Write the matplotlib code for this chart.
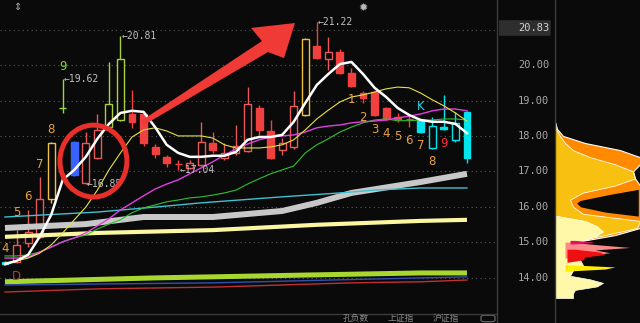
import matplotlib
matplotlib.use("Agg")
import matplotlib.pyplot as plt
import matplotlib.transforms as mtrans
from matplotlib.patches import Rectangle, Ellipse, Polygon, FancyBboxPatch
from matplotlib.lines import Line2D

BG = "#0a0a0a"

# ---- candles ----
opens = [14.38, 14.44, 14.98, 15.15, 16.22, 18.80, 17.83, 16.67, 17.38, 18.25,
         18.45, 18.62, 18.62, 17.69, 17.41, 17.22, 17.10, 17.18, 17.80, 17.38,
         17.52, 17.58, 18.79, 18.14, 17.60, 17.69, 18.59, 20.54, 20.18, 20.37,
         19.78, 19.21, 19.24, 18.79, 18.54, 18.49, 18.45, 17.66, 18.25, 17.89, 18.68]
highs = [14.46, 15.34, 15.91, 16.84, 17.82, 19.62, 17.85, 18.11, 18.62, 20.09,
         20.81, 19.30, 18.64, 17.77, 17.46, 17.32, 17.32, 18.40, 18.11, 17.80,
         18.31, 19.38, 18.88, 18.45, 17.94, 19.27, 20.76, 21.22, 20.80, 20.46,
         19.92, 19.27, 19.27, 18.82, 18.65, 18.59, 18.47, 18.54, 19.16, 18.68, 18.70]
lows = [14.35, 14.41, 14.85, 15.12, 16.11, 18.65, 16.88, 16.64, 17.36, 18.22,
        18.43, 18.23, 17.72, 17.38, 17.12, 17.04, 17.08, 17.15, 17.52, 17.32,
        17.46, 17.55, 18.03, 17.36, 17.46, 17.62, 18.57, 20.18, 19.86, 19.76,
        19.38, 18.93, 18.57, 18.45, 18.40, 18.25, 18.08, 17.64, 18.17, 17.83, 17.24]
closes = [14.44, 14.92, 15.29, 16.22, 17.80, 18.78, 16.90, 17.80, 18.17, 18.90,
          20.18, 18.40, 17.80, 17.49, 17.24, 17.20, 17.24, 17.83, 17.60, 17.52,
          17.72, 18.90, 18.17, 17.38, 17.80, 18.85, 20.74, 20.20, 20.37, 19.78,
          19.41, 19.07, 18.59, 18.48, 18.48, 18.47, 18.11, 18.28, 18.20, 18.37, 17.38]
candle_colors = (["#00e4ee"] + ["#e85a5a"] * 3 + ["#f0c040", "#8ee030", "#3a62ff",
                 "#e85a5a", "#e85a5a", "#a8d040", "#a8d040"] + ["#f04040"] * 5 +
                 ["#e85a5a", "#e85a5a", "#f04040", "#e85a5a", "#e85a5a", "#e85a5a",
                  "#f04040", "#f04040", "#e85a5a", "#e85a5a", "#f0c040", "#f04040",
                  "#e85a5a"] + ["#f04040"] * 7 + ["#00e4ee"] * 5)
hollow = [False, True, True, True, True, False, False, True, True, True,
          True, False, False, False, False, False, True, True, False, True,
          True, True, False, False, True, True, True, False, True, False,
          False, False, False, False, False, False, False, True, False, True, False]

# ---- moving averages, one value per candle ----
ma_white = [14.38, 14.47, 14.64, 15.15, 15.77, 16.76, 17.04, 17.41, 17.92, 18.34,
            18.65, 18.71, 18.68, 18.25, 17.75, 17.52, 17.41, 17.41, 17.44, 17.44,
            17.55, 17.89, 17.97, 17.97, 18.03, 18.40, 18.93, 19.44, 19.75, 20.03,
            20.09, 19.75, 19.36, 19.10, 18.79, 18.59, 18.45, 18.40, 18.40, 18.34, 18.08]
ma_yellow = [14.41, 14.47, 14.55, 14.69, 14.92, 15.26, 15.63, 15.99, 16.47, 17.04,
             17.52, 17.97, 18.17, 18.23, 18.14, 18.00, 18.00, 18.00, 17.94, 17.75,
             17.66, 17.66, 17.66, 17.69, 17.75, 17.89, 18.17, 18.48, 18.73, 18.96,
             19.10, 19.16, 19.24, 19.33, 19.38, 19.36, 19.21, 19.02, 18.85, 18.65, 18.42]
ma_magenta = [14.55, 14.55, 14.58, 14.72, 14.86, 15.01, 15.12, 15.26, 15.46, 15.66,
              15.91, 16.11, 16.31, 16.50, 16.64, 16.76, 16.93, 17.10, 17.27, 17.46,
              17.63, 17.77, 17.89, 17.97, 18.00, 18.03, 18.11, 18.23, 18.28, 18.31,
              18.37, 18.40, 18.42, 18.45, 18.51, 18.56, 18.62, 18.71, 18.76, 18.76, 18.71]
ma_green = [14.61, 14.61, 14.64, 14.72, 14.86, 15.01, 15.12, 15.20, 15.37, 15.51,
            15.63, 15.83, 15.97, 16.05, 16.14, 16.19, 16.25, 16.28, 16.33, 16.39,
            16.47, 16.64, 16.79, 16.93, 17.04, 17.15, 17.52, 17.75, 17.92, 18.11,
            18.25, 18.37, 18.45, 18.48, 18.43, 18.43, 18.45, 18.45, 18.48, 18.48, 18.45]

# ---- slow lines, read at a few candle positions ----
cyan_x = [0, 8, 13, 17, 24, 29, 32, 36, 40]
cyan_v = [15.71, 15.85, 15.99, 16.11, 16.28, 16.39, 16.47, 16.53, 16.53]
gray_x = [0, 7, 12, 18, 24, 27, 30, 36, 40]
gray_v = [15.40, 15.51, 15.71, 15.71, 15.88, 16.11, 16.39, 16.70, 16.93]
pale_x = [0, 8, 18, 27, 36, 40]
pale_v = [15.15, 15.26, 15.34, 15.49, 15.60, 15.63]
lime_x = [0, 6, 13, 18, 26, 31, 36, 40]
lime_v = [13.88, 13.93, 13.99, 14.02, 14.07, 14.10, 14.13, 14.13]
blue_x = [0, 18, 36, 40]
blue_v = [13.79, 13.85, 13.99, 14.02]
red_x = [0, 8, 18, 30, 36, 40]
red_v = [13.59, 13.68, 13.73, 13.85, 13.88, 13.93]

# ---- sequence counters / markers ----
seq_x = [0, 1, 2, 3, 4, 5, 30, 31, 32, 33, 34, 35, 36, 37, 38, 36, 1]
seq_y = [14.81, 15.85, 16.28, 17.18, 18.17, 19.95, 19.02, 18.51, 18.17, 18.06,
         17.97, 17.86, 17.72, 17.29, 17.80, 18.82, 14.02]
seq_txt = ["4", "5", "6", "7", "8", "9", "1", "2", "3", "4", "5", "6", "7", "8", "9", "K", "D"]
seq_col = (["#e8a040"] * 5 + ["#7ee020"] + ["#e8a040"] * 8 +
           ["#ff3030", "#30d0e0", "#a04838"])

# ---- price marks ----
mark_x = [5, 10, 7, 15, 27]
mark_p = [19.62, 20.81, 16.64, 17.04, 21.22]
mark_txt = ["19.62", "20.81", "16.85", "17.04", "21.22"]

price_ticks = [14, 15, 16, 17, 18, 19, 20]
last_price = "20.83"

# ---- chip distribution panel ----
chip_p = [18.40, 18.20, 18.00, 17.80, 17.60, 17.40, 17.20, 17.00, 16.80, 16.60,
          16.40, 16.20, 16.00, 15.80, 15.60, 15.40, 15.20, 15.00, 14.80]
chip_orange = [0, 2, 8, 30, 65, 85, 85, 78, 80, 85, 85, 85, 85, 85, 85, 85, 60, 20, 0]
chip_gold = [0, 1, 5, 10, 18, 35, 60, 78, 80, 60, 28, 15, 18, 28, 85, 82, 50, 15, 0]
gap_p = [16.55, 16.40, 16.22, 16.10, 15.95, 15.80, 15.68]
gap_left = [85, 55, 24, 19, 25, 50, 85]
pale_p = [15.75, 15.60, 15.45, 15.30, 15.15, 15.00, 14.90, 14.80, 14.65, 14.50,
          14.35, 14.20, 14.05, 13.95, 13.85, 13.75, 13.65, 13.55, 13.42]
pale_w = [0, 30, 42, 48, 40, 22, 14, 18, 22, 25, 28, 18, 15, 35, 48, 42, 20, 18, 18]
pink_p = [15.00, 14.92, 14.85, 14.78, 14.70, 14.62, 14.55]
pink_w = [15, 45, 75, 40, 55, 30, 15]
redc_p = [14.80, 14.72, 14.65, 14.58, 14.50, 14.42]
redc_w = [20, 45, 50, 30, 28, 10]
mag_p = [15.05, 15.00, 14.95]
mag_w = [20, 40, 20]
yel_p = [14.36, 14.30, 14.24, 14.18]
yel_w = [15, 60, 50, 10]

status_txt = ["孔负数", "上证指", "沪证指"]

fig = plt.figure(figsize=(6.4, 3.23), dpi=100, facecolor=BG)
ax = fig.add_axes([0, 9 / 323, 497 / 640, 314 / 323], facecolor=BG)
ax.set_xlim(-0.43, 42.6)
ax.set_ylim(12.97, 21.84)
for s in ax.spines.values():
    s.set_visible(False)
ax.set_xticks([])
ax.set_yticks([])

for p in range(14, 22):
    ax.axhline(p, color="#5a5a5a", lw=0.8, ls=(0, (1, 3)), zorder=1)

# candles
w = 0.6
for i in range(len(opens)):
    o, h, l, c = opens[i], highs[i], lows[i], closes[i]
    col = candle_colors[i]
    top, bot = max(o, c), min(o, c)
    ax.vlines(i, top, h, color=col, lw=1, zorder=3)
    ax.vlines(i, l, bot, color=col, lw=1, zorder=3)
    ax.add_patch(Rectangle((i - w / 2, bot), w, max(top - bot, 0.02),
                           fc=BG if hollow[i] else col, ec=col, lw=1, zorder=3))

# slow thick lines
ax.plot(gray_x, gray_v, color="#c8c8c8", lw=4.3, zorder=4, solid_capstyle="butt")
ax.plot(pale_x, pale_v, color="#fbf7a0", lw=3.0, zorder=4, solid_capstyle="butt")
ax.plot(lime_x, lime_v, color="#a8d830", lw=3.6, zorder=4, solid_capstyle="butt")
ax.plot(blue_x, blue_v, color="#3050b0", lw=1, zorder=4)
ax.plot(red_x, red_v, color="#c03030", lw=1, zorder=4)
ax.plot(cyan_x, cyan_v, color="#40c0d0", lw=1, zorder=4)

xs = list(range(len(ma_white)))
ax.plot(xs, ma_green, color="#30c030", lw=0.8, zorder=5)
ax.plot(xs, ma_magenta, color="#e040e0", lw=1.0, zorder=5)
ax.plot(xs, ma_yellow, color="#e8e040", lw=0.8, zorder=5)
ax.plot(xs, ma_white, color="#ffffff", lw=1.8, zorder=5)

for x, y, t, c in zip(seq_x, seq_y, seq_txt, seq_col):
    ax.text(x, y, t, color=c, fontsize=8.5, ha="center", va="center", zorder=6)

for x, p, t in zip(mark_x, mark_p, mark_txt):
    ax.text(x + 0.1, p, "\u2190" + t, color="#c0c0c0", fontsize=7,
            family="DejaVu Sans Mono", ha="left", va="center", zorder=6)

# red circle and arrow (annotation)
ax.add_patch(Ellipse((7.66, 17.29), 5.8, 2.03, fill=False, ec="#e8302a", lw=3.6, zorder=7))
ax.add_patch(Polygon([(11.77, 18.42), (22.25, 20.68), (21.30, 21.05), (25.11, 21.19),
                      (24.16, 20.20), (22.77, 20.37), (12.03, 18.31)],
                     closed=True, fc="#f03a36", ec="none", zorder=7))

# price axis labels
tr = mtrans.blended_transform_factory(ax.transAxes, ax.transData)
for p in price_ticks:
    ax.text(1.042, p, "%.2f" % p, transform=tr, color="#a8a8a8", fontsize=7.5,
            family="DejaVu Sans Mono", ha="left", va="center")
ax.add_patch(FancyBboxPatch((1.004, 20.83), 0.104, 0.44, transform=tr, clip_on=False,
                            boxstyle="round,pad=0,rounding_size=0.005",
                            fc="#2e2e2e", ec="none"))
ax.text(1.042, 21.05, last_price, transform=tr, color="#d0d0d0", fontsize=7.5,
        family="DejaVu Sans Mono", ha="left", va="center")

# icons
fig.text(17 / 640, 1 - 7 / 323, "\u21d5", color="#b0b0b0", fontsize=7, ha="center", va="center")
fig.text(363 / 640, 1 - 8 / 323, "\u2739", color="#b8b8b8", fontsize=8, ha="center", va="center")

# chip distribution
pan = fig.add_axes([555 / 640, 9 / 323, 85 / 640, 314 / 323], facecolor=BG)
pan.set_xlim(0, 85)
pan.set_ylim(12.97, 21.84)
pan.axis("off")
pan.fill_betweenx(chip_p, 0, chip_orange, color="#ff8a00", ec="#ffffff", lw=0.8)
pan.fill_betweenx(chip_p, 0, chip_gold, color="#f8c010", ec="#ffffff", lw=0.6)
pan.fill_betweenx(gap_p, gap_left, 85, color=BG, ec="#ff8a00", lw=2.5)
pan.fill_betweenx(pale_p, 0, pale_w, color="#fff8a8", ec="#ffffff", lw=0.5)
pan.fill_betweenx(pink_p, 10, pink_w, color="#ff8888", lw=0)
pan.fill_betweenx(redc_p, 12, redc_w, color="#ee1010", lw=0)
pan.fill_betweenx(mag_p, 15, mag_w, color="#e0106a", lw=0)
pan.fill_betweenx(yel_p, 10, yel_w, color="#ffee00", lw=0)

# frame lines
for xv in (497, 555):
    fig.add_artist(Line2D([xv / 640, xv / 640], [0, 1], color="#3c3c3c", lw=1))
fig.add_artist(Line2D([0, 497 / 640], [9 / 323, 9 / 323], color="#3c3c3c", lw=1))
fig.add_artist(FancyBboxPatch((481 / 640, 0.004), 14 / 640, 0.02, boxstyle="round,pad=0,rounding_size=0.005",
                              fc="none", ec="#707070", lw=0.8, transform=fig.transFigure))

# status text along the bottom edge
for xp, t in zip([343, 388, 433], status_txt):
    fig.text(xp / 640, 0.5 / 323, t, color="#8a8a8a", fontsize=6.3,
             family=["Noto Sans CJK SC", "DejaVu Sans"], ha="left", va="bottom")

fig.savefig("out.png", dpi=100, facecolor=BG)
